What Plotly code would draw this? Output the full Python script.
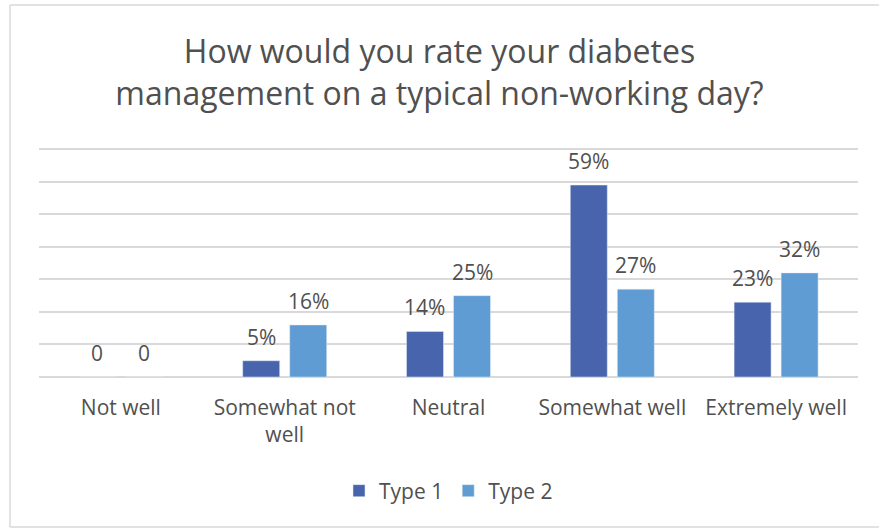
import plotly.graph_objects as go

categories = ["Not well", "Somewhat not<br>well", "Neutral", "Somewhat well", "Extremely well"]
type1 = [0, 5, 14, 59, 23]
type2 = [0, 16, 25, 27, 32]
type1_labels = ["0", "5%", "14%", "59%", "23%"]
type2_labels = ["0", "16%", "25%", "27%", "32%"]

W, H = 879, 528
L, R, T, B = 39, 21, 146, 151
DARK = "#4864AC"
LIGHT = "#5F9CD3"
TXT = "#505050"
FONT = "Open Sans, sans-serif"

fig = go.Figure()
fig.add_trace(go.Bar(x=categories, y=type1, name="Type 1", marker=dict(color=DARK)))
fig.add_trace(go.Bar(x=categories, y=type2, name="Type 2", marker=dict(color=LIGHT)))

# bar geometry: category width in px, used for label offsets
cat_px = (W - L - R) / len(categories)
bargap = 0.426
slot = cat_px * (1 - bargap) / 2

for vals, labels, sign in ((type1, type1_labels, -1), (type2, type2_labels, 1)):
    for c, v, t in zip(categories, vals, labels):
        fig.add_annotation(
            x=c, y=v, text=t, showarrow=False,
            xshift=sign * slot / 2, yshift=24, yanchor="middle",
            font=dict(family=FONT, size=21, color=TXT),
        )

# light frame on the left, top and bottom (right edge is off the page)
px2x = lambda p: (p - L) / (W - L - R)
px2y = lambda p: 1 - (p - T) / (H - T - B)
fx0, fx1, fy0, fy1 = px2x(10), px2x(W), px2y(527), px2y(5)
for x0, y0, x1, y1 in ((fx0, fy0, fx0, fy1), (fx0, fy1, fx1, fy1), (fx0, fy0, fx1, fy0)):
    fig.add_shape(
        type="line", xref="paper", yref="paper", x0=x0, y0=y0, x1=x1, y1=y1,
        line=dict(color="#D9D9D9", width=1.5), layer="below",
    )

fig.update_layout(
    width=W, height=H,
    margin=dict(l=L, r=R, t=T, b=B, autoexpand=False),
    paper_bgcolor="white", plot_bgcolor="white",
    barmode="group", bargap=bargap, bargroupgap=0.213,
    title=dict(
        text="How would you rate your diabetes<br>management on a typical non-working day?",
        x=0.5, xanchor="center", y=1 - 63 / H, yanchor="middle",
        font=dict(family=FONT, size=32, color=TXT),
    ),
    xaxis=dict(
        showline=False, ticks="", ticklabelstandoff=16, automargin=False,
        tickfont=dict(family=FONT, size=21, color=TXT),
    ),
    yaxis=dict(
        range=[0, 71], tickvals=[0, 10, 20, 30, 40, 50, 60, 70],
        showticklabels=False, automargin=False,
        showgrid=True, gridcolor="#D9D9D9", gridwidth=1.5,
        zeroline=True, zerolinecolor="#D9D9D9", zerolinewidth=1.5,
    ),
    legend=dict(
        orientation="h", x=0.5, xanchor="center",
        yref="container", y=1 - 491 / H, yanchor="middle",
        font=dict(family=FONT, size=21, color=TXT),
        traceorder="normal",
    ),
    showlegend=True,
)

# drop the default page margin so the chart sits at the window's corner
fig.write_html(
    "out.html",
    config={"displayModeBar": False},
    post_script="document.body.style.margin='0';",
)
